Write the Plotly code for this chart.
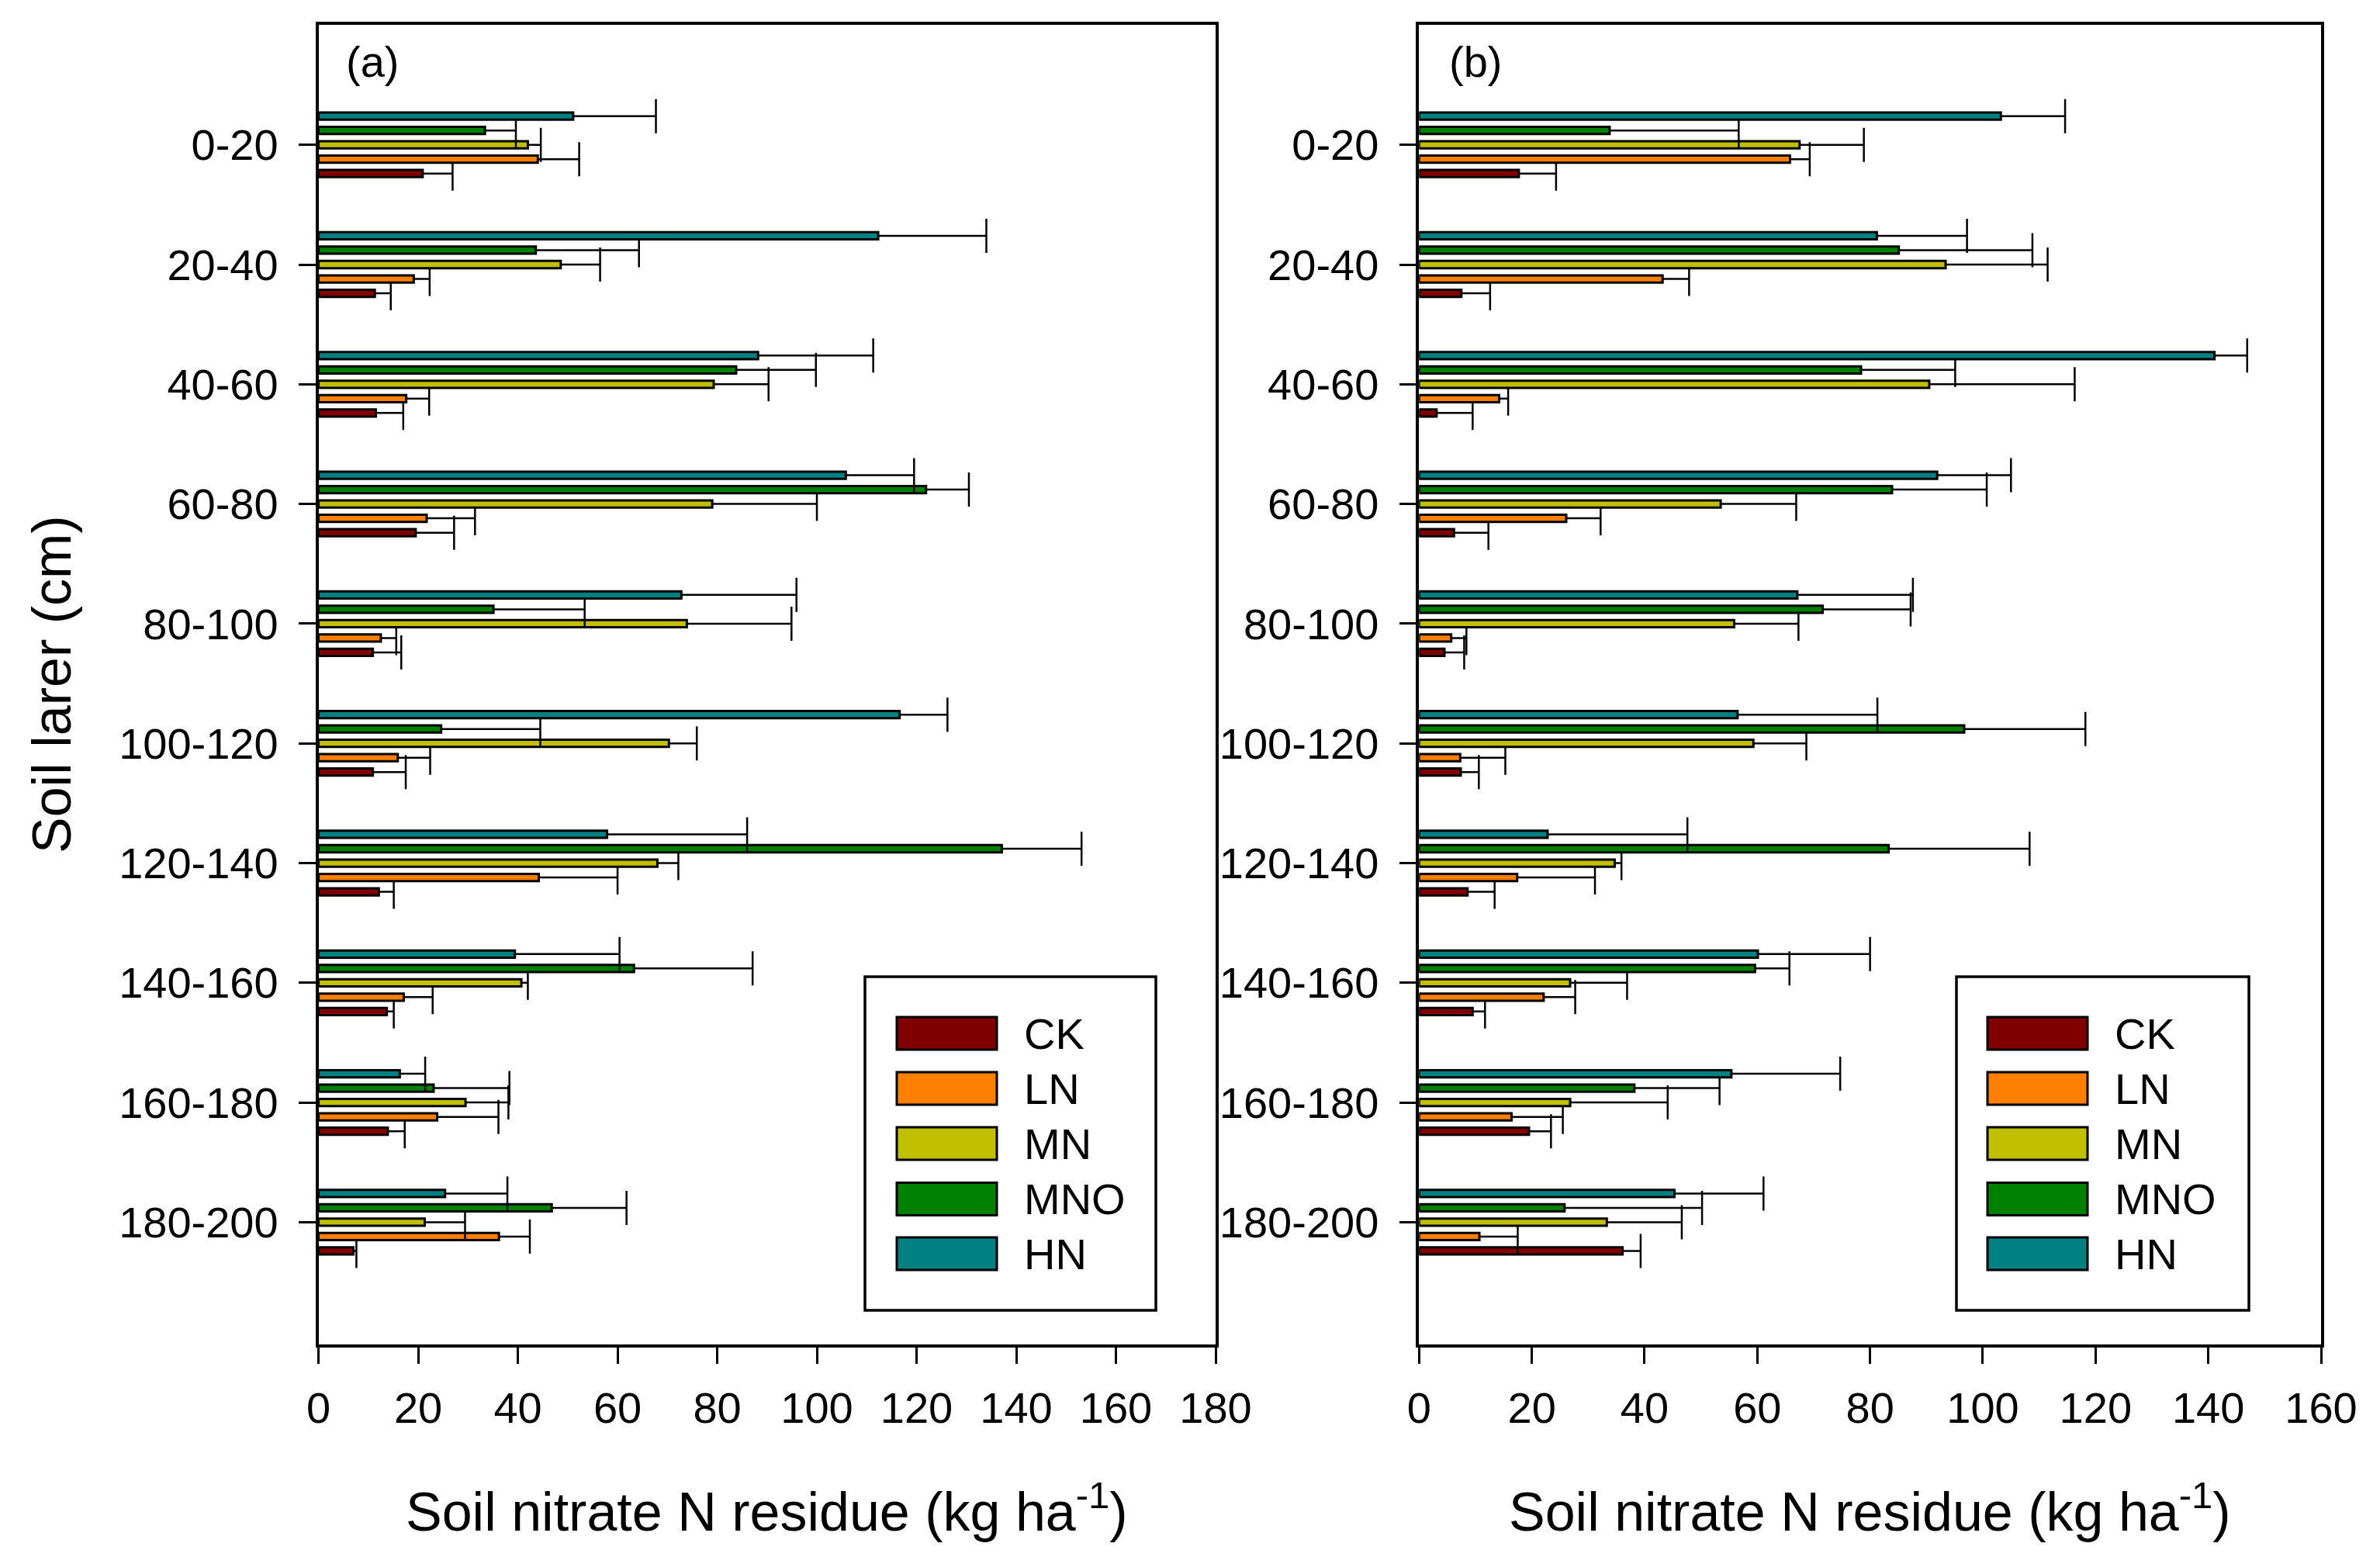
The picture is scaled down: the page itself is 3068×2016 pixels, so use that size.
import plotly.graph_objects as go

# ---------------- data ----------------
depths = ["0-20", "20-40", "40-60", "60-80", "80-100", "100-120",
          "120-140", "140-160", "160-180", "180-200"]
series = ["CK", "LN", "MN", "MNO", "HN"]

# panel (a): mean values and SE (upper error length)
a_CK = [20.9, 11.3, 11.5, 19.5, 10.9, 10.9, 12.1, 13.7, 13.9, 7.0]
a_LN = [44.0, 19.1, 17.6, 21.7, 12.5, 15.9, 44.2, 17.1, 23.8, 36.2]
a_MN = [42.0, 48.6, 79.3, 79.0, 73.9, 70.3, 68.0, 40.7, 29.5, 21.3]
a_MNO = [33.4, 43.6, 83.8, 121.9, 35.1, 24.6, 137.1, 63.3, 23.1, 46.8]
a_HN = [51.1, 112.3, 88.2, 105.8, 72.8, 116.6, 57.9, 39.4, 16.3, 25.4]
a_CK_se = [6.0, 3.2, 5.5, 7.7, 5.7, 6.6, 3.0, 1.4, 3.4, 0.6]
a_LN_se = [8.3, 3.2, 4.6, 9.7, 3.1, 6.5, 15.8, 5.8, 12.3, 6.2]
a_MN_se = [2.6, 7.9, 11.0, 21.0, 21.0, 5.6, 4.2, 1.3, 8.6, 8.1]
a_MNO_se = [6.2, 20.7, 16.0, 8.6, 18.3, 19.9, 16.0, 23.8, 15.2, 15.0]
a_HN_se = [16.6, 21.7, 23.1, 13.7, 23.1, 9.6, 28.1, 21.0, 5.1, 12.5]

# panel (b)
b_CK = [17.7, 7.5, 3.1, 6.2, 4.5, 7.4, 8.6, 9.5, 19.5, 36.1]
b_LN = [65.8, 43.2, 14.2, 26.1, 5.7, 7.3, 17.4, 22.1, 16.4, 10.7]
b_MN = [67.5, 93.4, 90.5, 53.5, 55.9, 59.3, 34.7, 26.8, 26.8, 33.3]
b_MNO = [33.8, 85.1, 78.4, 83.9, 71.6, 96.7, 83.3, 59.6, 38.2, 25.8]
b_HN = [103.2, 81.2, 141.1, 91.9, 67.1, 56.5, 22.8, 60.1, 55.4, 45.3]
b_CK_se = [6.6, 5.1, 6.4, 6.1, 3.5, 3.2, 4.8, 2.2, 3.9, 3.2]
b_LN_se = [3.5, 4.7, 1.6, 6.1, 2.7, 8.0, 13.8, 5.6, 9.1, 6.8]
b_MN_se = [11.4, 18.1, 25.8, 13.4, 11.4, 9.4, 1.2, 10.1, 17.3, 13.3]
b_MNO_se = [22.9, 23.7, 16.7, 16.8, 15.6, 21.5, 25.0, 6.1, 15.1, 24.4]
b_HN_se = [11.4, 16.0, 5.8, 13.1, 20.5, 24.8, 24.8, 19.9, 19.3, 15.8]

x_ticks_a = [0, 20, 40, 60, 80, 100, 120, 140, 160, 180]
x_ticks_b = [0, 20, 40, 60, 80, 100, 120, 140, 160]

# ---------------- styles ----------------
colors = {"CK": "#800000", "LN": "#FF8000", "MN": "#C0C000",
          "MNO": "#008000", "HN": "#008080"}
offsets = {"CK": 0.24, "LN": 0.12, "MN": 0.0, "MNO": -0.12, "HN": -0.24}
BAR_W = 0.06
FONT = "Arial, Liberation Sans, Helvetica, sans-serif"
W, H = 3068, 2016

panel_a = {"CK": (a_CK, a_CK_se), "LN": (a_LN, a_LN_se), "MN": (a_MN, a_MN_se),
           "MNO": (a_MNO, a_MNO_se), "HN": (a_HN, a_HN_se)}
panel_b = {"CK": (b_CK, b_CK_se), "LN": (b_LN, b_LN_se), "MN": (b_MN, b_MN_se),
           "MNO": (b_MNO, b_MNO_se), "HN": (b_HN, b_HN_se)}

fig = go.Figure()


def add_panel(panel, xref, yref):
    for s in series:
        vals, se = panel[s]
        ypos = [i + offsets[s] for i in range(len(depths))]
        # main bar + error line (no caps)
        fig.add_trace(go.Bar(
            x=vals, y=ypos, orientation="h", width=BAR_W,
            marker=dict(color=colors[s], line=dict(color="black", width=3)),
            error_x=dict(type="data", symmetric=False, array=se,
                         arrayminus=[0] * len(se), width=0,
                         thickness=2.5, color="black"),
            xaxis=xref, yaxis=yref, showlegend=False, name=s))
        # cap at the end of the error line
        fig.add_trace(go.Bar(
            x=[0] * len(vals), base=[v + e for v, e in zip(vals, se)],
            y=ypos, orientation="h", width=BAR_W,
            marker=dict(color="rgba(0,0,0,0)", line=dict(width=0)),
            error_x=dict(type="data", symmetric=True, array=[0] * len(se),
                         width=22, thickness=2.5, color="black"),
            xaxis=xref, yaxis=yref, showlegend=False, hoverinfo="skip"))


add_panel(panel_a, "x", "y")
add_panel(panel_b, "x2", "y2")


def px(x):
    return x / W


def py(y):
    return 1 - y / H


ydom = [py(1732.5), py(31.7)]
yrange = [10.018, -1.0045]

axis_common = dict(showline=True, linewidth=3.5, linecolor="black", mirror=True,
                   ticks="outside", ticklen=22, tickwidth=3, tickcolor="black",
                   showgrid=False, zeroline=False, automargin=False,
                   tickfont=dict(family=FONT, size=56, color="black"))

fig.update_layout(
    autosize=True, margin=dict(l=0, r=0, t=0, b=0, pad=0, autoexpand=False),
    paper_bgcolor="white", plot_bgcolor="white",
    barmode="overlay", showlegend=False,
    font=dict(family=FONT, color="black"),
    xaxis=dict(domain=[px(410.6), px(1567)], range=[0, 180], tickvals=x_ticks_a,
               anchor="y", ticklabelstandoff=9, **axis_common),
    yaxis=dict(domain=ydom, range=yrange, tickvals=list(range(len(depths))),
               ticktext=depths, anchor="x", ticklabelstandoff=15, **axis_common),
    xaxis2=dict(domain=[px(1829.3), px(2992)], range=[0, 160], tickvals=x_ticks_b,
                anchor="y2", ticklabelstandoff=9, **axis_common),
    yaxis2=dict(domain=ydom, range=yrange, tickvals=list(range(len(depths))),
                ticktext=depths, anchor="x2", ticklabelstandoff=15, **axis_common),
)

shapes = []
annotations = []

# legends
legend_rows = [1332, 1403, 1474, 1545.5, 1616]
for box_x0, box_x1, sw_x0, txt_x in [(1115, 1490, 1156, 1318), (2522, 2899, 2562, 2724)]:
    shapes.append(dict(type="rect", xref="paper", yref="paper",
                       x0=px(box_x0), x1=px(box_x1), y0=py(1689), y1=py(1259),
                       line=dict(color="black", width=3.5), fillcolor="white", layer="above"))
    for s, yc in zip(series, legend_rows):
        shapes.append(dict(type="rect", xref="paper", yref="paper",
                           x0=px(sw_x0), x1=px(sw_x0 + 129), y0=py(yc + 21), y1=py(yc - 21),
                           line=dict(color="black", width=3), fillcolor=colors[s], layer="above"))
        annotations.append(dict(text=s, xref="paper", yref="paper", x=px(txt_x), y=py(yc),
                                xanchor="left", yanchor="middle", showarrow=False,
                                font=dict(family=FONT, size=56, color="black")))

# panel labels
for lab, xl in [("(a)", 444), ("(b)", 1866)]:
    annotations.append(dict(text=lab, xref="paper", yref="paper", x=px(xl), y=py(80),
                            xanchor="left", yanchor="middle", showarrow=False,
                            font=dict(family=FONT, size=56, color="black")))

# axis titles
xt = "Soil nitrate N residue (kg ha<sup>-1</sup>)"
for xc in [(410.6 + 1567) / 2, (1829.3 + 2992) / 2]:
    annotations.append(dict(text=xt, xref="paper", yref="paper", x=px(xc), y=py(1944),
                            xanchor="center", yanchor="middle", showarrow=False,
                            font=dict(family=FONT, size=70, color="black")))
annotations.append(dict(text="Soil larer (cm)", xref="paper", yref="paper",
                        x=px(67), y=py(882), textangle=-90,
                        xanchor="center", yanchor="middle", showarrow=False,
                        font=dict(family=FONT, size=70, color="black")))

fig.update_layout(shapes=shapes, annotations=annotations)

fig.write_html(
    "out.html",
    config={"displayModeBar": False, "responsive": True},
    default_width="100vw", default_height="100vh",
    post_script=("document.documentElement.style.margin='0';"
                 "document.body.style.margin='0';document.body.style.padding='0';"
                 "document.body.style.overflow='hidden';"
                 "Plotly.Plots.resize(document.getElementById('{plot_id}'));"))
